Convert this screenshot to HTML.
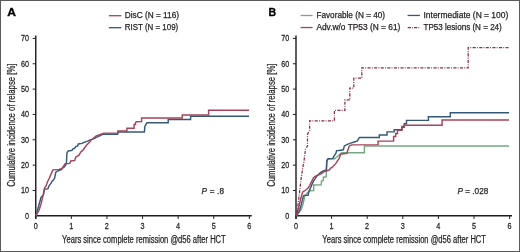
<!DOCTYPE html>
<html><head><meta charset="utf-8"><style>
html,body{margin:0;padding:0;background:#fff;}
body{width:520px;height:252px;overflow:hidden;}
svg{display:block;will-change:transform;}
text{font-family:"Liberation Sans",sans-serif;fill:#231f20;stroke:#231f20;stroke-width:0.25px;}
.tk{font-size:8.6px;}
.lt{font-size:11.6px;font-weight:bold;fill:#000;stroke:#000;stroke-width:0.35px;}
.ttl{font-size:10px;}
.lg{font-size:8.7px;}
.pv{font-size:8.2px;}
</style></head><body>
<svg width="520" height="252" viewBox="0 0 520 252">
<rect x="0" y="0" width="520" height="252" fill="#fff"/>
<text x="7.3" y="15.6" class="lt" textLength="8.7" lengthAdjust="spacingAndGlyphs">A</text>
<line x1="35.75" y1="35.4" x2="35.75" y2="219" stroke="#231f20" stroke-width="1.45"/>
<line x1="35.05" y1="215.75" x2="251.75" y2="215.75" stroke="#231f20" stroke-width="1.45"/>
<text transform="translate(29.00,218.80) scale(0.84,1)" text-anchor="end" class="tk">0</text>
<line x1="32.65" y1="190.50" x2="35.75" y2="190.50" stroke="#231f20" stroke-width="1"/>
<text transform="translate(29.00,193.45) scale(0.84,1)" text-anchor="end" class="tk">10</text>
<line x1="32.65" y1="165.15" x2="35.75" y2="165.15" stroke="#231f20" stroke-width="1"/>
<text transform="translate(29.00,168.10) scale(0.84,1)" text-anchor="end" class="tk">20</text>
<line x1="32.65" y1="139.80" x2="35.75" y2="139.80" stroke="#231f20" stroke-width="1"/>
<text transform="translate(29.00,142.75) scale(0.84,1)" text-anchor="end" class="tk">30</text>
<line x1="32.65" y1="114.45" x2="35.75" y2="114.45" stroke="#231f20" stroke-width="1"/>
<text transform="translate(29.00,117.40) scale(0.84,1)" text-anchor="end" class="tk">40</text>
<line x1="32.65" y1="89.10" x2="35.75" y2="89.10" stroke="#231f20" stroke-width="1"/>
<text transform="translate(29.00,92.05) scale(0.84,1)" text-anchor="end" class="tk">50</text>
<line x1="32.65" y1="63.75" x2="35.75" y2="63.75" stroke="#231f20" stroke-width="1"/>
<text transform="translate(29.00,66.70) scale(0.84,1)" text-anchor="end" class="tk">60</text>
<line x1="32.65" y1="38.40" x2="35.75" y2="38.40" stroke="#231f20" stroke-width="1"/>
<text transform="translate(29.00,41.35) scale(0.84,1)" text-anchor="end" class="tk">70</text>
<line x1="35.75" y1="215.75" x2="35.75" y2="218.95" stroke="#231f20" stroke-width="1"/>
<text transform="translate(35.65,228.7) scale(0.84,1)" text-anchor="middle" class="tk">0</text>
<line x1="71.35" y1="215.75" x2="71.35" y2="218.95" stroke="#231f20" stroke-width="1"/>
<text transform="translate(71.25,228.7) scale(0.84,1)" text-anchor="middle" class="tk">1</text>
<line x1="106.95" y1="215.75" x2="106.95" y2="218.95" stroke="#231f20" stroke-width="1"/>
<text transform="translate(106.85,228.7) scale(0.84,1)" text-anchor="middle" class="tk">2</text>
<line x1="142.55" y1="215.75" x2="142.55" y2="218.95" stroke="#231f20" stroke-width="1"/>
<text transform="translate(142.45,228.7) scale(0.84,1)" text-anchor="middle" class="tk">3</text>
<line x1="178.15" y1="215.75" x2="178.15" y2="218.95" stroke="#231f20" stroke-width="1"/>
<text transform="translate(178.05,228.7) scale(0.84,1)" text-anchor="middle" class="tk">4</text>
<line x1="213.75" y1="215.75" x2="213.75" y2="218.95" stroke="#231f20" stroke-width="1"/>
<text transform="translate(213.65,228.7) scale(0.84,1)" text-anchor="middle" class="tk">5</text>
<line x1="249.35" y1="215.75" x2="249.35" y2="218.95" stroke="#231f20" stroke-width="1"/>
<text transform="translate(249.25,228.7) scale(0.84,1)" text-anchor="middle" class="tk">6</text>
<text transform="translate(15.0,186.8) rotate(-90)" class="ttl" textLength="123.3" lengthAdjust="spacingAndGlyphs">Cumulative incidence of relapse [%]</text>
<text x="62.1" y="242.7" class="ttl" textLength="163.6" lengthAdjust="spacingAndGlyphs">Years since complete remission @d56 after HCT</text>
<text x="201.6" y="193.9" class="pv" textLength="22.4" lengthAdjust="spacing"><tspan font-style="italic">P</tspan> = .8</text>
<text x="268.4" y="15.6" class="lt" textLength="7.6" lengthAdjust="spacingAndGlyphs">B</text>
<line x1="296.0" y1="35.4" x2="296.0" y2="219" stroke="#231f20" stroke-width="1.45"/>
<line x1="295.3" y1="215.75" x2="512.0" y2="215.75" stroke="#231f20" stroke-width="1.45"/>
<text transform="translate(289.25,218.80) scale(0.84,1)" text-anchor="end" class="tk">0</text>
<line x1="292.9" y1="190.50" x2="296.0" y2="190.50" stroke="#231f20" stroke-width="1"/>
<text transform="translate(289.25,193.45) scale(0.84,1)" text-anchor="end" class="tk">10</text>
<line x1="292.9" y1="165.15" x2="296.0" y2="165.15" stroke="#231f20" stroke-width="1"/>
<text transform="translate(289.25,168.10) scale(0.84,1)" text-anchor="end" class="tk">20</text>
<line x1="292.9" y1="139.80" x2="296.0" y2="139.80" stroke="#231f20" stroke-width="1"/>
<text transform="translate(289.25,142.75) scale(0.84,1)" text-anchor="end" class="tk">30</text>
<line x1="292.9" y1="114.45" x2="296.0" y2="114.45" stroke="#231f20" stroke-width="1"/>
<text transform="translate(289.25,117.40) scale(0.84,1)" text-anchor="end" class="tk">40</text>
<line x1="292.9" y1="89.10" x2="296.0" y2="89.10" stroke="#231f20" stroke-width="1"/>
<text transform="translate(289.25,92.05) scale(0.84,1)" text-anchor="end" class="tk">50</text>
<line x1="292.9" y1="63.75" x2="296.0" y2="63.75" stroke="#231f20" stroke-width="1"/>
<text transform="translate(289.25,66.70) scale(0.84,1)" text-anchor="end" class="tk">60</text>
<line x1="292.9" y1="38.40" x2="296.0" y2="38.40" stroke="#231f20" stroke-width="1"/>
<text transform="translate(289.25,41.35) scale(0.84,1)" text-anchor="end" class="tk">70</text>
<line x1="296.00" y1="215.75" x2="296.00" y2="218.95" stroke="#231f20" stroke-width="1"/>
<text transform="translate(295.90,228.7) scale(0.84,1)" text-anchor="middle" class="tk">0</text>
<line x1="331.60" y1="215.75" x2="331.60" y2="218.95" stroke="#231f20" stroke-width="1"/>
<text transform="translate(331.50,228.7) scale(0.84,1)" text-anchor="middle" class="tk">1</text>
<line x1="367.20" y1="215.75" x2="367.20" y2="218.95" stroke="#231f20" stroke-width="1"/>
<text transform="translate(367.10,228.7) scale(0.84,1)" text-anchor="middle" class="tk">2</text>
<line x1="402.80" y1="215.75" x2="402.80" y2="218.95" stroke="#231f20" stroke-width="1"/>
<text transform="translate(402.70,228.7) scale(0.84,1)" text-anchor="middle" class="tk">3</text>
<line x1="438.40" y1="215.75" x2="438.40" y2="218.95" stroke="#231f20" stroke-width="1"/>
<text transform="translate(438.30,228.7) scale(0.84,1)" text-anchor="middle" class="tk">4</text>
<line x1="474.00" y1="215.75" x2="474.00" y2="218.95" stroke="#231f20" stroke-width="1"/>
<text transform="translate(473.90,228.7) scale(0.84,1)" text-anchor="middle" class="tk">5</text>
<line x1="509.60" y1="215.75" x2="509.60" y2="218.95" stroke="#231f20" stroke-width="1"/>
<text transform="translate(509.50,228.7) scale(0.84,1)" text-anchor="middle" class="tk">6</text>
<text transform="translate(275.25,186.8) rotate(-90)" class="ttl" textLength="123.3" lengthAdjust="spacingAndGlyphs">Cumulative incidence of relapse [%]</text>
<text x="322.35" y="242.7" class="ttl" textLength="163.6" lengthAdjust="spacingAndGlyphs">Years since complete remission @d56 after HCT</text>
<text x="457.5" y="193.9" class="pv" textLength="30.8" lengthAdjust="spacing"><tspan font-style="italic">P</tspan> = .028</text>
<line x1="108.8" y1="15.7" x2="121.3" y2="15.7" stroke="#a6435a" stroke-width="1.3"/>
<line x1="108.8" y1="27.7" x2="121.3" y2="27.7" stroke="#33587a" stroke-width="1.3"/>
<text x="124.8" y="18.3" class="lg" textLength="54.2" lengthAdjust="spacingAndGlyphs">DisC (N = 116)</text>
<text x="124.8" y="30.2" class="lg" textLength="53.4" lengthAdjust="spacingAndGlyphs">RIST (N = 109)</text>
<line x1="300.6" y1="15.5" x2="312.6" y2="15.5" stroke="#74a880" stroke-width="1.3"/>
<line x1="300.6" y1="27.55" x2="312.6" y2="27.55" stroke="#a6435a" stroke-width="1.3"/>
<text x="316.4" y="18.1" class="lg" textLength="68.7" lengthAdjust="spacingAndGlyphs">Favorable (N = 40)</text>
<text x="316.4" y="30.1" class="lg" textLength="84.0" lengthAdjust="spacingAndGlyphs">Adv.w/o TP53 (N = 61)</text>
<line x1="407.6" y1="15.45" x2="419.9" y2="15.45" stroke="#33587a" stroke-width="1.3"/>
<line x1="407.7" y1="27.6" x2="419.9" y2="27.6" stroke="#8a2c46" stroke-width="1.3" stroke-dasharray="3.3 1.1 0.8 1.1"/>
<text x="423.5" y="18.1" class="lg" textLength="84.8" lengthAdjust="spacingAndGlyphs">Intermediate (N = 100)</text>
<text x="423.5" y="30.1" class="lg" textLength="78.3" lengthAdjust="spacingAndGlyphs">TP53 lesions (N = 24)</text>
<path d="M36.00,215.75 L37.80,209.30 L39.70,202.30 L41.00,197.30 L42.30,196.00 L43.50,194.70 L44.60,189.10 L47.10,189.10 L48.20,188.40 L48.90,186.10 L50.00,184.60 L51.10,183.20 L51.80,181.40 L53.20,180.30 L53.90,179.30 L54.60,178.20 L55.60,173.20 L56.00,171.90 L58.00,170.90 L61.00,169.90 L62.40,168.10 L64.30,166.90 L65.60,165.00 L66.40,163.70 L66.90,152.90 L68.20,151.00 L72.00,150.40 L72.60,149.10 L74.50,148.50 L75.80,146.50 L77.70,145.90 L78.30,144.00 L82.00,143.40 L84.70,142.10 L87.70,141.10 L89.70,140.10 L92.70,139.10 L94.20,138.70 L96.25,137.30 L99.70,135.90 L102.50,134.30 L117.60,134.30 L118.30,131.90 L144.40,131.90 L144.90,126.20 L146.90,122.80 L168.20,122.80 L168.20,119.40 L190.60,119.40 L190.60,116.30 L249.00,116.30" fill="none" stroke="#33587a" stroke-width="1.45" stroke-linejoin="miter"/>
<path d="M36.00,215.75 L39.10,210.00 L41.00,204.20 L42.30,198.50 L43.20,194.70 L44.30,188.90 L44.60,187.50 L45.70,186.80 L46.80,183.90 L47.50,181.80 L48.60,179.60 L49.30,178.20 L51.90,172.10 L53.00,169.90 L59.90,169.40 L59.90,168.90 L62.00,168.70 L64.90,163.90 L69.80,163.40 L70.80,161.00 L74.80,160.40 L75.80,157.00 L78.80,155.40 L80.80,152.00 L82.70,150.40 L84.70,147.70 L86.70,145.10 L89.70,142.10 L91.40,139.70 L92.70,138.70 L96.25,135.90 L100.40,134.50 L103.90,133.10 L117.90,133.10 L117.90,131.00 L126.90,131.00 L126.90,128.20 L134.10,128.20 L134.10,124.40 L135.50,124.40 L135.50,122.50 L136.30,121.70 L141.60,121.50 L141.60,118.00 L182.30,118.00 L182.30,115.00 L208.60,115.00 L208.60,110.20 L249.00,110.20" fill="none" stroke="#a6435a" stroke-width="1.45" stroke-linejoin="miter"/>
<path d="M296.30,215.75 L299.40,211.80 L301.40,208.80 L302.70,205.40 L304.10,199.40 L304.80,196.00 L306.50,193.90 L308.50,191.70 L309.20,190.80 L313.70,190.60 L313.70,185.00 L321.20,184.70 L321.50,180.80 L323.20,180.60 L323.40,177.20 L326.20,176.80 L326.40,172.40 L326.60,169.60 L326.90,160.60 L328.00,159.00 L334.70,158.70 L336.50,157.20 L338.20,155.80 L340.00,154.00 L341.80,152.70 L364.40,152.70 L364.40,146.00 L509.00,146.00" fill="none" stroke="#74a880" stroke-width="1.45" stroke-linejoin="miter"/>
<path d="M296.30,215.75 L299.40,210.85 L301.40,204.15 L303.40,196.05 L304.10,195.35 L308.10,195.35 L308.80,191.95 L310.80,187.25 L312.20,183.85 L313.50,181.15 L314.90,179.15 L317.00,175.95 L320.50,172.55 L322.40,171.45 L326.20,170.05 L326.90,160.55 L328.10,158.75 L332.90,158.35 L334.10,155.85 L335.90,153.45 L336.60,150.65 L338.80,150.45 L343.40,149.75 L344.30,145.95 L348.00,144.15 L350.70,143.15 L353.40,142.25 L357.50,140.95 L359.40,137.40 L379.30,137.40 L379.30,134.95 L387.00,134.95 L387.00,131.85 L394.20,131.85 L394.20,129.75 L401.90,129.75 L401.90,126.45 L404.30,126.45 L404.30,123.65 L406.50,123.65 L406.50,120.35 L428.40,120.35 L428.40,116.75 L450.30,116.75 L450.30,112.70 L509.00,112.70" fill="none" stroke="#33587a" stroke-width="1.45" stroke-linejoin="miter"/>
<path d="M296.30,215.75 L298.70,207.45 L300.70,198.75 L302.70,191.95 L304.10,191.25 L306.80,189.25 L308.10,187.95 L309.50,185.85 L310.80,183.15 L312.20,180.45 L313.50,177.75 L315.50,176.25 L318.70,174.95 L321.50,173.65 L322.80,172.45 L325.10,171.25 L329.30,170.05 L330.50,168.35 L332.30,167.15 L334.10,165.35 L335.30,164.15 L336.50,162.45 L337.60,160.65 L339.20,158.45 L340.20,155.45 L341.20,154.05 L346.80,153.35 L347.40,151.55 L348.60,147.95 L349.20,146.15 L351.50,144.85 L378.10,144.65 L378.10,141.10 L393.60,141.10 L393.60,136.45 L395.70,136.45 L395.70,133.45 L397.50,133.45 L397.50,130.35 L401.90,130.35 L401.90,127.25 L404.30,127.25 L404.30,125.15 L442.10,125.15 L442.10,119.95 L509.00,119.95" fill="none" stroke="#a6435a" stroke-width="1.45" stroke-linejoin="miter"/>
<path d="M296.30,215.75 L296.90,212.35 L298.60,200.15 L299.80,190.15 L300.90,180.15 L301.90,173.45 L302.90,166.85 L304.00,161.25 L304.60,156.15 L305.10,153.05 L305.40,149.15 L307.50,146.15 L307.50,134.15 L309.60,130.45 L309.60,120.75 L334.40,120.75 L334.40,110.45 L344.90,110.45 L344.90,99.95 L349.80,99.95 L349.80,88.05 L353.80,88.05 L353.80,78.15 L361.80,78.15 L361.80,67.95 L468.20,67.95 L468.20,47.65 L508.50,47.65" fill="none" stroke="#8a2c46" stroke-width="1.25" stroke-linejoin="miter" stroke-dasharray="3.1 1.2 0.9 1.4" stroke-dashoffset="3.64"/>
<rect x="0.5" y="0.5" width="519" height="251" fill="none" stroke="#595959" stroke-width="1"/>
</svg>
</body></html>
